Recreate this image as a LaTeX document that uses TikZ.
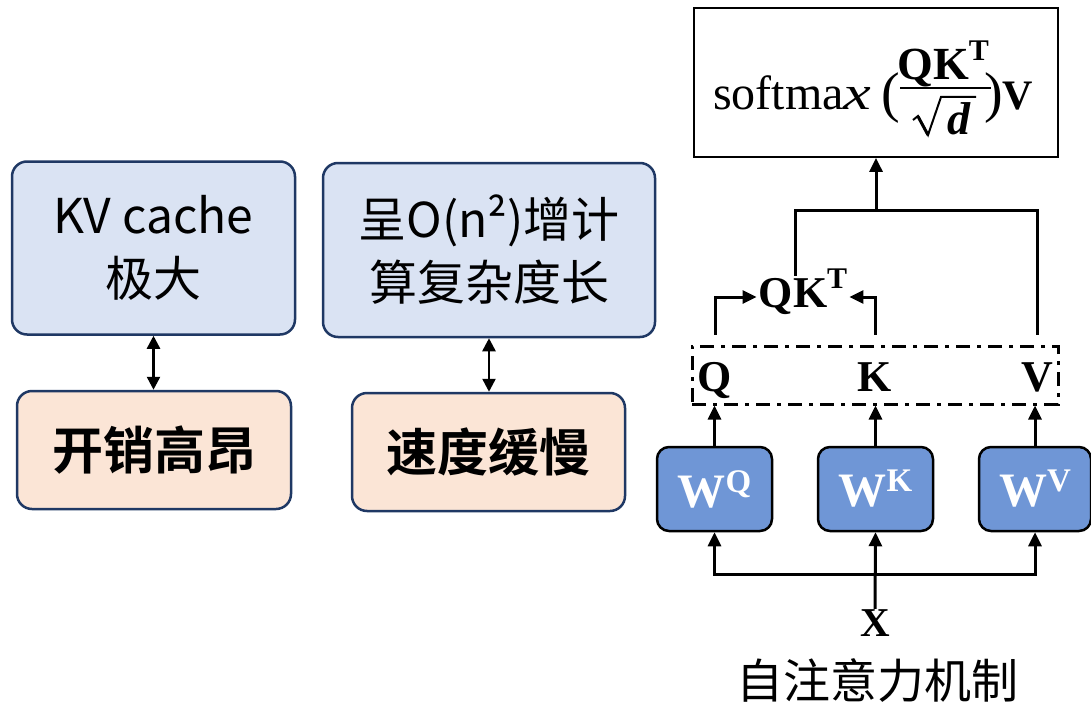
\documentclass[tikz,border=0pt]{standalone}
\usepackage{fontspec}
\setmainfont{Liberation Serif}
\newfontfamily\cjk{Noto Sans CJK SC}
\newfontfamily\cjkbold{Noto Sans CJK SC Bold}
\usetikzlibrary{arrows.meta}

\definecolor{navy}{HTML}{1F3864}
\definecolor{paleblue}{HTML}{DAE3F3}
\definecolor{peach}{HTML}{FBE5D6}
\definecolor{wblue}{HTML}{6F96D6}

\tikzset{
  infobox/.style={draw=navy, line width=2.5pt, rounded corners=15pt, align=center, inner sep=0pt},
  costbox/.style={infobox, fill=paleblue, font=\cjk\fontsize{48}{63}\selectfont},
  effectbox/.style={infobox, fill=peach, font=\cjkbold\fontsize{51}{60}\selectfont},
  wbox/.style={draw=black, line width=2.5pt, fill=wblue, rounded corners=12pt,
    minimum height=84pt, text=white, inner sep=0pt, font=\fontsize{48}{50}\selectfont\bfseries},
  boldlbl/.style={font=\fontsize{44}{50}\selectfont\bfseries, inner sep=0pt},
  formula/.style={inner sep=0pt, anchor=base west, font=\fontsize{48}{50}\selectfont},
  link/.style={line width=3pt, -{Triangle[length=14pt,width=13pt]}},
  wire/.style={line width=3pt},
  twoway/.style={line width=2.5pt, {Triangle[length=13pt,width=13pt]}-{Triangle[length=13pt,width=13pt]}}
}

\newcommand{\wsup}[1]{W\raisebox{15pt}{\fontsize{33}{33}\selectfont #1}}

\begin{document}
\begin{tikzpicture}[x=1pt,y=-1pt]
\useasboundingbox (0,0) rectangle (1091,706);

% left: cost and consequence boxes
\node[costbox, minimum width=283pt, minimum height=173pt] (kv) at (153.5,248) {KV cache\\极大};
\node[costbox, minimum width=332pt, minimum height=174pt] (cplx) at (489,250) {呈O(n²)增计\\算复杂度长};
\node[effectbox, minimum width=274pt, minimum height=118pt] (cost) at (154,450) {开销高昂};
\node[effectbox, minimum width=273pt, minimum height=118pt] (slow) at (488.5,452) {速度缓慢};
\draw[twoway] (kv.south) -- (kv.south |- cost.north);
\draw[twoway] (cplx.south) -- (cplx.south |- slow.north);

% right: attention output
\node[draw=black, line width=1.8pt, minimum width=364pt, minimum height=149pt, inner sep=0pt] (sm) at (876,82.5) {};
\node[formula] (fsoft) at (713,110) {softma\scalebox{1.3}[1]{\textit{x}}};
\node[formula, font=\fontsize{56}{60}\selectfont] (fopen) at (881,111) {(};
\node[formula, anchor=base, font=\fontsize{46}{50}\selectfont\bfseries] (fnum) at (943,80)
  {QK\raisebox{19pt}{\fontsize{30}{30}\selectfont T}};
\node[formula, anchor=base, font=\fontsize{46}{50}\selectfont\bfseries\itshape] (fden) at (959,135) {d};
\node[formula, font=\fontsize{56}{60}\selectfont] (fclose) at (984,111) {)};
\node[formula, font=\fontsize{42}{50}\selectfont\bfseries] (fv) at (1002,110) {V};
\draw[line width=2pt] (900,88) -- (991,88);
\draw[line width=2pt, line join=miter] (913,120) -- (918,116) -- (928,135) -- (941,97) -- (976,97);
\draw[line width=3pt] (918,116.5) -- (928,135);

% right: self-attention
\node[draw=black, line width=3pt, dash pattern=on 14pt off 7pt on 4pt off 7pt,
      minimum width=366pt, minimum height=58pt, inner sep=0pt] (qkv) at (875,375) {};
\node[boldlbl, anchor=base] (q) at (715,391) {Q};
\node[boldlbl, anchor=base] (k) at (875,391) {K};
\node[boldlbl, anchor=base] (v) at (1037,391) {V};

\node[boldlbl, text height=31pt, text depth=11pt, inner xsep=2pt] (qkt) at (803,297)
  {QK\raisebox{0.42em}{\fontsize{30}{30}\selectfont T}};

\coordinate (top) at (876,210);
\draw[link] (q.north |- qkv.north) ++(0,-10) |- (qkt.west);
\draw[link] (k.north |- qkv.north) ++(0,-10) |- (qkt.east);
\draw[wire] ([xshift=-8pt]qkt.north) |- (top) -| ([yshift=10pt]v.north |- qkv.north);
\draw[link] (top) -- (sm.south);

\node[wbox, minimum width=115pt] (wq) at (714.5,489) {\wsup{Q}};
\node[wbox, minimum width=115pt] (wk) at (875.5,489) {\wsup{K}};
\node[wbox, minimum width=112pt] (wv) at (1035,489) {\wsup{V}};
\draw[link] (wq.north) -- (wq.north |- qkv.south);
\draw[link] (wk.north) -- (wk.north |- qkv.south);
\draw[link] (wv.north) -- (wv.north |- qkv.south);

\node[boldlbl, font=\fontsize{41}{45}\selectfont\bfseries, anchor=base] (x) at (875,636) {X};
\coordinate (split) at (875,574);
\draw[link] (x.north) -- (wk.south);
\draw[link] (split) -| (wq.south);
\draw[link] (split) -| (wv.south);

\node[font=\cjk\fontsize{47}{50}\selectfont, inner sep=0pt] (cap) at (877,681) {自注意力机制};
\end{tikzpicture}
\end{document}
